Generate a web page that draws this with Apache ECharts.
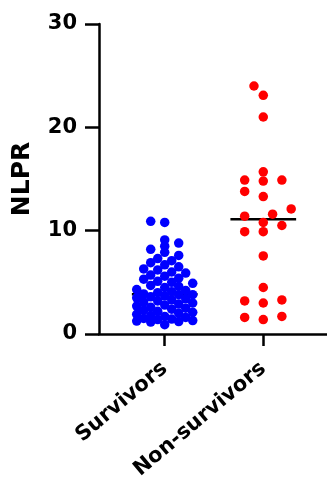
<!DOCTYPE html>
<html>
<head>
<meta charset="utf-8">
<script src="https://cdn.jsdelivr.net/npm/echarts@6/dist/echarts.min.js"></script>
<style>
  html, body { margin: 0; padding: 0; background: #fff; }
  #chart { width: 327px; height: 478px; }
</style>
</head>
<body>
<div id="chart"></div>
<script>
// Group names on the x axis
const categories = ['Survivors', 'Non-survivors'];

// NLPR per patient
const survivors = [
  0.9, 1.15, 1.2, 1.25, 1.3, 1.4, 1.45, 1.5, 1.6, 1.7, 1.8, 1.9,
  2.0, 2.1, 2.2, 2.3, 2.4, 2.5, 2.6, 2.7, 2.8, 2.9,
  3.0, 3.1, 3.2, 3.3, 3.4, 3.5, 3.6, 3.7, 3.8, 3.8,
  3.88, 4.0, 4.1, 4.2, 4.3, 4.5, 4.6, 4.7, 4.9,
  5.0, 5.1, 5.3, 5.4, 5.6, 5.7, 5.9,
  6.0, 6.2, 6.3, 6.5, 6.7, 6.9, 7.1, 7.3, 7.6,
  7.9, 8.2, 8.5, 8.8, 9.1, 10.8, 10.9
];
const nonSurvivors = [
  1.4, 1.6, 1.7, 3.0, 3.2, 3.3, 4.5, 7.55, 9.9, 9.9, 10.5, 10.8,
  11.4, 11.6, 12.1, 13.3, 13.8, 14.8, 14.9, 14.9, 15.7, 21.0, 23.1, 24.0
];

// y axis ticks
const yTicks = [0, 10, 20, 30];

const groupColors = ['#0000ff', '#ff0000'];
const FONT = 'DejaVu Sans';

function median(arr) {
  const s = arr.slice().sort((a, b) => a - b);
  const m = s.length >> 1;
  return s.length % 2 ? s[m] : (s[m - 1] + s[m]) / 2;
}

const chart = echarts.init(document.getElementById('chart'), null, { renderer: 'canvas' });

const xMin = 1 / 3;
const xMax = 1 / 3 + 229 / 99;

const baseOption = {
  animation: false,
  backgroundColor: '#fff',
  grid: { left: 99, right: 0, top: 24, bottom: 144, outerBoundsMode: 'none' },
  xAxis: {
    type: 'value',
    min: xMin,
    max: xMax,
    splitLine: { show: false },
    axisLine: { show: true, lineStyle: { color: '#000', width: 2.5 } },
    axisTick: {
      show: true, customValues: [1, 2], length: 12,
      lineStyle: { color: '#000', width: 2.5 }
    },
    axisLabel: {
      show: true, customValues: [1, 2], rotate: 40, margin: 32,
      formatter: v => categories[Math.round(v) - 1] || '',
      color: '#000', fontSize: 21, fontWeight: 'bold', fontFamily: FONT
    }
  },
  yAxis: {
    type: 'value',
    min: yTicks[0],
    max: yTicks[yTicks.length - 1],
    interval: yTicks[1] - yTicks[0],
    splitLine: { show: false },
    axisLine: { show: true, lineStyle: { color: '#000', width: 2.5 } },
    axisTick: { show: true, length: 14, lineStyle: { color: '#000', width: 2.5 } },
    axisLabel: { margin: 22, color: '#000', fontSize: 21, fontWeight: 'bold', fontFamily: FONT },
    name: 'NLPR',
    nameLocation: 'middle',
    nameGap: 64,
    nameTextStyle: { color: '#000', fontSize: 25, fontWeight: 'bold', fontFamily: FONT }
  },
  series: []
};
chart.setOption(baseOption);

// Beeswarm: spread points sideways (in pixels) within a column width.
// Each point takes the free slot nearest the centre; when every slot is
// taken it goes to the slot where it overlaps its neighbours least.
function swarm(values, center, opt) {
  const sorted = values.slice().sort((a, b) => a - b);
  const cx = chart.convertToPixel({ gridIndex: 0 }, [center, 0])[0];
  const placed = [];
  const out = [];
  const slots = [0];
  for (let k = 1; k * opt.step <= opt.half + 0.01; k++) slots.push(-k, k);
  for (const v of sorted) {
    const py = chart.convertToPixel({ gridIndex: 0 }, [center, v])[1];
    const penalty = ox => placed.reduce((m, p) => {
      const d = ((p.x - ox) / opt.dx) ** 2 + ((p.y - py) / opt.dy) ** 2;
      return Math.max(m, 1 - d);
    }, 0);
    const left = placed.filter(p => p.x < 0).length;
    const right = placed.filter(p => p.x > 0).length;
    let best = 0, bestPen = Infinity;
    for (const s of slots) {
      // on ties, favour the lighter side
      const k = left <= right ? s : -s;
      const pen = penalty(k * opt.step);
      if (pen <= 0) { best = k; bestPen = 0; break; }
      if (pen < bestPen - 1e-9) { best = k; bestPen = pen; }
    }
    const ox = best * opt.step;
    placed.push({ x: ox, y: py });
    out.push([chart.convertFromPixel({ gridIndex: 0 }, [cx + ox, py])[0], v]);
  }
  return out;
}

const groups = [survivors, nonSurvivors];
const swarmOpts = [
  { step: 7, dx: 9, dy: 6, half: 28 },
  { step: 9.3, dx: 18.6, dy: 9.3, half: 28 }
];

const series = [];
groups.forEach((vals, i) => {
  const c = i + 1;
  const med = median(vals);
  series.push({
    type: 'line',
    data: [[c - 1 / 3, med], [c + 1 / 3, med]],
    symbol: 'none',
    lineStyle: { color: '#000', width: 2.5 },
    z: 1,
    silent: true
  });
  series.push({
    type: 'scatter',
    data: swarm(vals, c, swarmOpts[i]),
    symbol: 'circle',
    symbolSize: 9.5,
    itemStyle: { color: groupColors[i], opacity: 1 },
    z: 2
  });
});

chart.setOption({ series });
</script>
</body>
</html>
